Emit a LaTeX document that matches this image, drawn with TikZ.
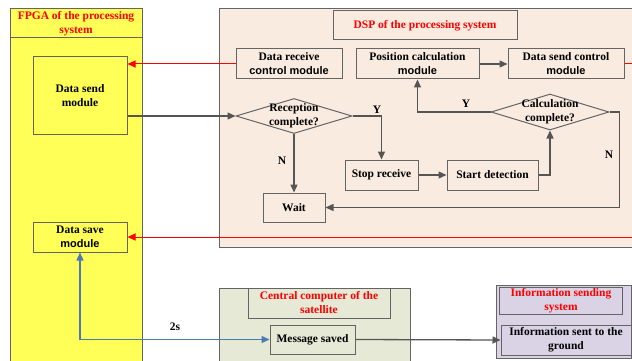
\documentclass[tikz,border=0pt]{standalone}
\usepackage{fontspec}
\setmainfont{Liberation Serif}
\newfontfamily\sansfnt{Liberation Sans}
\usetikzlibrary{shapes.geometric,arrows.meta}
\definecolor{fyellow}{RGB}{255,255,88}
\definecolor{fpeach}{RGB}{250,235,224}
\definecolor{fgreen}{RGB}{229,233,214}
\definecolor{flav}{RGB}{217,211,229}
\definecolor{bgray}{RGB}{100,100,100}
\definecolor{lgray}{RGB}{85,85,85}
\definecolor{lblue}{RGB}{74,122,176}
\newcommand{\sm}[1]{{\sansfnt\fontsize{11}{14}\selectfont #1}}
\tikzset{
  txt/.style={font=\fontsize{11.5}{14}\selectfont\bfseries, align=center, inner sep=0pt},
  ttl/.style={txt, text=red},
  panel/.style={draw=bgray, line width=1pt},
  mbox/.style={draw=bgray, line width=1pt, txt, inner sep=0pt},
  dia/.style={draw=bgray, line width=1pt, shape=diamond, inner sep=0pt},
  garrow/.style={draw=lgray, line width=1.3pt, -{Triangle[length=8pt,width=7pt]}},
  gline/.style={draw=lgray, line width=1.3pt},
  rarrow/.style={draw=red, line width=1pt, -{Triangle[length=8pt,width=7pt]}},
  rline/.style={draw=red, line width=1pt},
  barrow/.style={draw=lblue, line width=1.3pt, {Triangle[length=8pt,width=7pt]}-{Triangle[length=8pt,width=7pt]}},
  lbl/.style={txt}
}
\begin{document}
\begin{tikzpicture}[x=1pt,y=-1pt]
\useasboundingbox (0,0) rectangle (632,361);
\clip (0,0) rectangle (632,361);
\fill[white] (0,0) rectangle (632,361);
% panels
\draw[panel, fill=fyellow] (10,9) rectangle (142,370);
\draw[panel] (10,38) -- (142,38);
\node[ttl] (fpgat) at (76,23.5) {FPGA of the processing\\system};
\draw[panel, fill=fpeach] (219,9) rectangle (640,247);
\node[mbox, ttl, minimum width=184pt, minimum height=29pt] (dspt) at (425,25.5) {DSP of the processing system};
\draw[panel, fill=fgreen] (219,288) rectangle (410,370);
\node[mbox, ttl, minimum width=142pt, minimum height=30pt] (cct) at (319,303) {Central computer of the\\satellite};
\draw[panel, fill=flav] (496,285) rectangle (631.5,358);
\node[mbox, ttl, minimum width=123pt, minimum height=27pt] (ist) at (561,300.5) {Information sending\\system};
% FPGA modules
\node[mbox, fill=fyellow, minimum width=94pt, minimum height=77pt] (dsm) at (80,95.5) {Data send\\module};
\node[mbox, fill=fyellow, minimum width=94pt, minimum height=30pt] (dsv) at (80,237) {Data save\\\sm{module}};
% DSP modules
\node[mbox, fill=fpeach, minimum width=106pt, minimum height=30pt] (drc) at (289,64) {Data receive\\\sm{control module}};
\node[mbox, fill=fpeach, minimum width=123pt, minimum height=30pt] (pc) at (417.5,64) {Position calculation\\\sm{module}};
\node[mbox, fill=fpeach, minimum width=116pt, minimum height=30pt] (dsc) at (566,64) {Data send control\\\sm{module}};
\node[dia, fill=fpeach, minimum width=116pt, minimum height=35pt] (rc) at (294,116) {};
\node[txt] (rct) at (rc) {Reception\\complete?};
\node[dia, fill=fpeach, minimum width=118pt, minimum height=36pt] (cd) at (550,112) {};
\node[txt] (cdt) at (cd) {Calculation\\complete?};
\node[mbox, fill=fpeach, minimum width=73pt, minimum height=30pt] (sr) at (381.5,175) {Stop receive};
\node[mbox, fill=fpeach, minimum width=91pt, minimum height=30pt] (sd) at (492.5,175) {Start detection};
\node[mbox, fill=fpeach, minimum width=62pt, minimum height=29pt] (wt) at (294,207.5) {Wait};
% satellite
\node[mbox, fill=fgreen, minimum width=85pt, minimum height=29pt] (ms) at (312.5,339.5) {Message saved};
\node[mbox, fill=flav, minimum width=130pt, minimum height=30pt] (is) at (566,340) {Information sent to the\\ground};
% free ends
\coordinate (redR1) at (633,64);
\coordinate (redR2) at (633,237);
% connectors
\draw[rarrow] (drc.west) -- (drc.west -| dsm.east);
\draw[rline] (dsc.east) -- (redR1);
\draw[rarrow] (redR2) -- (dsv.east);
\draw[garrow] (rc.west -| dsm.east) -- (rc.west);
\draw[garrow] (rc.east) -| (sr.north);
\node[lbl] (ly1) at (377,110) {Y};
\draw[garrow] (rc.south) -- (wt.north);
\node[lbl] (ln1) at (282,161) {N};
\draw[garrow] (sr.east) -- (sd.west);
\draw[garrow] (sd.east) -| (cd.south);
\draw[garrow] (cd.west) -| (pc.south);
\node[lbl] (ly2) at (466,104) {Y};
\draw[garrow] (pc.east) -- (dsc.west);
\draw[garrow] (cd.east) -- ++(10,0) |- (wt.east);
\node[lbl] (ln2) at (609,155) {N};
\draw[barrow] (dsv.south) |- (ms.west);
\node[lbl] (l2s) at (175,327) {2s};
\draw[garrow] (ms.east) -- (is.west);
\end{tikzpicture}
\end{document}
